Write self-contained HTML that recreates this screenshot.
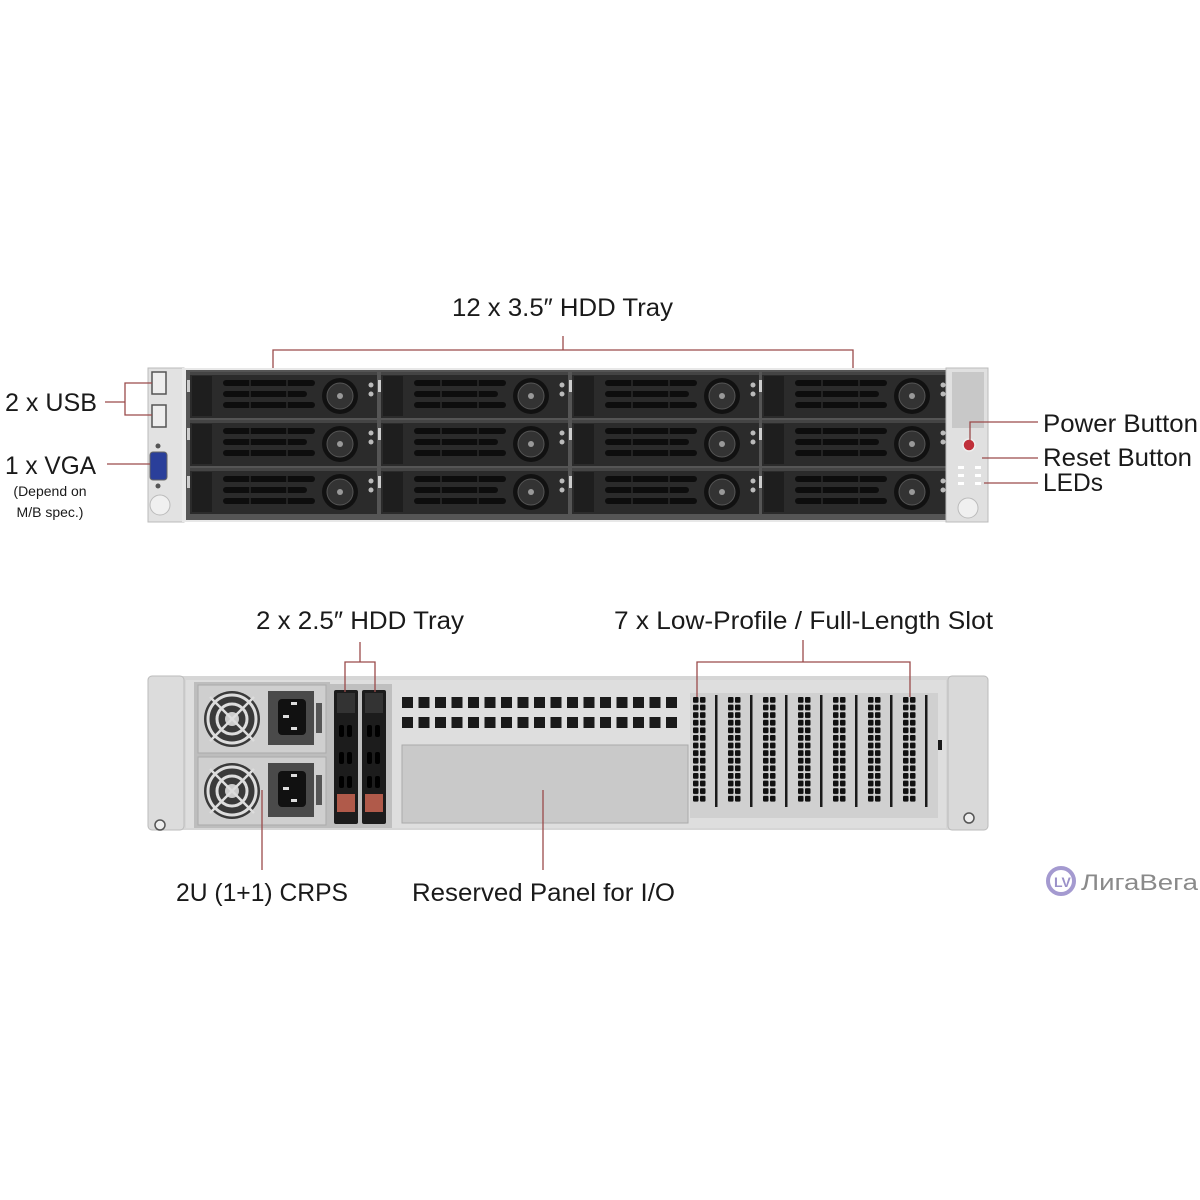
<!DOCTYPE html>
<html><head><meta charset="utf-8"><style>
html,body{margin:0;padding:0;background:#fff;width:1200px;height:1200px;overflow:hidden}
svg{display:block}
text{font-family:"Liberation Sans",sans-serif;fill:#1a1a1a}
</style></head><body>
<svg width="1200" height="1200" viewBox="0 0 1200 1200" xmlns="http://www.w3.org/2000/svg">
<defs>
<g id="bay">
  <rect x="0" y="0" width="187" height="46" fill="#2b2b2b"/>
  <rect x="0" y="0" width="187" height="3" fill="#444"/>
  <rect x="2" y="4" width="20" height="40" fill="#1e1e1e"/>
  <rect x="-3" y="8" width="3" height="12" fill="#ccc"/>
  <rect x="33" y="8" width="92" height="6" rx="3" fill="#0d0d0d"/>
  <rect x="33" y="19" width="84" height="6" rx="3" fill="#0d0d0d"/>
  <rect x="33" y="30" width="92" height="6" rx="3" fill="#0d0d0d"/>
  <line x1="60" y1="8" x2="60" y2="36" stroke="#2b2b2b" stroke-width="1.5"/>
  <line x1="97" y1="8" x2="97" y2="36" stroke="#2b2b2b" stroke-width="1.5"/>
  <circle cx="150" cy="24" r="18" fill="#111"/>
  <circle cx="150" cy="24" r="13" fill="#333" stroke="#555" stroke-width="1"/>
  <circle cx="150" cy="24" r="3" fill="#999"/>
  <circle cx="181" cy="13" r="2.5" fill="#bbb"/>
  <circle cx="181" cy="22" r="2.5" fill="#bbb"/>
</g>
<pattern id="vent" x="402" y="697" width="16.5" height="20" patternUnits="userSpaceOnUse">
  <rect x="0" y="0" width="11" height="11" fill="#1a1a1a"/>
</pattern>
<pattern id="pci" x="693" y="697" width="7" height="7.6" patternUnits="userSpaceOnUse">
  <rect x="0" y="0" width="5.5" height="5.8" rx="1" fill="#111"/>
</pattern>
<g id="psu">
  <rect x="0" y="0" width="128" height="68" fill="#cfcfcf" stroke="#aaa"/>
  <circle cx="34" cy="34" r="28" fill="#3a3a3a"/>
  <circle cx="34" cy="34" r="24" fill="none" stroke="#ddd" stroke-width="3"/>
  <circle cx="34" cy="34" r="15" fill="none" stroke="#ddd" stroke-width="3"/>
  <circle cx="34" cy="34" r="7" fill="#ccc"/>
  <line x1="12" y1="12" x2="56" y2="56" stroke="#ddd" stroke-width="2.5"/>
  <line x1="56" y1="12" x2="12" y2="56" stroke="#ddd" stroke-width="2.5"/>
  <rect x="70" y="6" width="46" height="54" fill="#4a4a4a"/>
  <rect x="80" y="14" width="28" height="36" rx="4" fill="#111"/>
  <rect x="93" y="17" width="6" height="3" fill="#ddd"/>
  <rect x="85" y="30" width="6" height="3" fill="#ddd"/>
  <rect x="93" y="42" width="6" height="3" fill="#ddd"/>
  <rect x="118" y="18" width="6" height="30" fill="#555"/>
</g>
<g id="tray">
  <rect x="0" y="0" width="24" height="134" rx="2" fill="#1c1c1c"/>
  <rect x="3" y="3" width="18" height="20" fill="#333"/>
  <rect x="5" y="35" width="5" height="12" rx="2" fill="#000"/><rect x="13" y="35" width="5" height="12" rx="2" fill="#000"/>
  <rect x="5" y="62" width="5" height="12" rx="2" fill="#000"/><rect x="13" y="62" width="5" height="12" rx="2" fill="#000"/>
  <rect x="5" y="86" width="5" height="12" rx="2" fill="#000"/><rect x="13" y="86" width="5" height="12" rx="2" fill="#000"/>
  <rect x="3" y="104" width="18" height="18" fill="#b05a4a"/>
</g>
</defs>

<!-- FRONT -->
<rect x="148" y="368" width="840" height="154" fill="#d4d4d4"/>
<rect x="148" y="368" width="36" height="154" fill="#e2e2e2" stroke="#bbb"/>
<rect x="182" y="368" width="766" height="154" fill="#e8e8e8"/>
<rect x="186" y="370" width="762" height="150" fill="#555"/>
<use href="#bay" x="190" y="372"/><use href="#bay" x="381" y="372"/><use href="#bay" x="572" y="372"/><use href="#bay" x="762" y="372"/>
<use href="#bay" x="190" y="420"/><use href="#bay" x="381" y="420"/><use href="#bay" x="572" y="420"/><use href="#bay" x="762" y="420"/>
<use href="#bay" x="190" y="468"/><use href="#bay" x="381" y="468"/><use href="#bay" x="572" y="468"/><use href="#bay" x="762" y="468"/>
<rect x="152" y="372" width="14" height="22" fill="#eee" stroke="#555" stroke-width="1.5"/>
<rect x="152" y="405" width="14" height="22" fill="#eee" stroke="#555" stroke-width="1.5"/>
<rect x="150" y="452" width="17" height="28" rx="3" fill="#2a3f9a" stroke="#666"/>
<circle cx="158" cy="446" r="2.5" fill="#555"/><circle cx="158" cy="486" r="2.5" fill="#555"/>
<circle cx="160" cy="505" r="10" fill="#f0f0f0" stroke="#bbb"/>
<rect x="946" y="368" width="42" height="154" fill="#e0e0e0" stroke="#bbb"/>
<rect x="952" y="372" width="32" height="56" fill="#c8c8c8"/>
<circle cx="969" cy="445" r="6" fill="#c0303a" stroke="#eee" stroke-width="1.5"/>
<rect x="958" y="466" width="6" height="3" fill="#fff"/><rect x="975" y="466" width="6" height="3" fill="#fff"/>
<rect x="958" y="474" width="6" height="3" fill="#fff"/><rect x="975" y="474" width="6" height="3" fill="#fff"/>
<rect x="958" y="482" width="6" height="3" fill="#fff"/><rect x="975" y="482" width="6" height="3" fill="#fff"/>
<circle cx="968" cy="508" r="10" fill="#f0f0f0" stroke="#bbb"/>

<g stroke="#9a4a4a" stroke-width="1.3" fill="none">
  <polyline points="273,368 273,350 853,350 853,368"/>
  <line x1="563" y1="336" x2="563" y2="350"/>
  <line x1="105" y1="402" x2="125" y2="402"/>
  <polyline points="152,383 125,383 125,415 152,415"/>
  <line x1="107" y1="464" x2="150" y2="464"/>
  <polyline points="970,440 970,422 1038,422"/>
  <line x1="982" y1="458" x2="1038" y2="458"/>
  <line x1="984" y1="483" x2="1038" y2="483"/>
</g>
<text x="452" y="316" font-size="25" textLength="221" lengthAdjust="spacingAndGlyphs">12 x 3.5″ HDD Tray</text>
<text x="5" y="411" font-size="25" textLength="92" lengthAdjust="spacingAndGlyphs">2 x USB</text>
<text x="5" y="474" font-size="25" textLength="91" lengthAdjust="spacingAndGlyphs">1 x VGA</text>
<text x="50" y="496" font-size="14" text-anchor="middle">(Depend on</text>
<text x="50" y="517" font-size="14" text-anchor="middle">M/B spec.)</text>
<text x="1043" y="432" font-size="25" textLength="155" lengthAdjust="spacingAndGlyphs">Power Button</text>
<text x="1043" y="466" font-size="25" textLength="149" lengthAdjust="spacingAndGlyphs">Reset Button</text>
<text x="1043" y="491" font-size="25" textLength="60" lengthAdjust="spacingAndGlyphs">LEDs</text>

<!-- REAR -->
<rect x="148" y="676" width="840" height="154" rx="4" fill="#d6d6d6"/>
<rect x="148" y="676" width="36" height="154" rx="4" fill="#dcdcdc" stroke="#bbb"/>
<rect x="948" y="676" width="40" height="154" rx="4" fill="#d9d9d9" stroke="#bbb"/>
<rect x="186" y="680" width="760" height="148" fill="#dedede"/>
<circle cx="160" cy="825" r="5" fill="#eee" stroke="#555" stroke-width="1.5"/>
<circle cx="969" cy="818" r="5" fill="#eee" stroke="#555" stroke-width="1.5"/>
<rect x="194" y="682" width="136" height="146" fill="#bdbdbd"/>
<use href="#psu" x="198" y="685"/>
<use href="#psu" x="198" y="757"/>
<rect x="330" y="684" width="62" height="144" fill="#bfbfbf"/>
<use href="#tray" x="334" y="690"/>
<use href="#tray" x="362" y="690"/>
<rect x="402" y="697" width="280" height="31" fill="url(#vent)"/>
<rect x="402" y="745" width="286" height="78" fill="#c9c9c9" stroke="#aaa"/>
<g>
  <rect x="690" y="693" width="248" height="125" fill="#d0d0d0"/>
  <rect x="693" y="697" width="14" height="106" fill="url(#pci)"/>
  <rect x="728" y="697" width="14" height="106" fill="url(#pci)"/>
  <rect x="763" y="697" width="14" height="106" fill="url(#pci)"/>
  <rect x="798" y="697" width="14" height="106" fill="url(#pci)"/>
  <rect x="833" y="697" width="14" height="106" fill="url(#pci)"/>
  <rect x="868" y="697" width="14" height="106" fill="url(#pci)"/>
  <rect x="903" y="697" width="14" height="106" fill="url(#pci)"/>
  <g fill="#1a1a1a">
    <rect x="715" y="695" width="2.5" height="112"/><rect x="750" y="695" width="2.5" height="112"/>
    <rect x="785" y="695" width="2.5" height="112"/><rect x="820" y="695" width="2.5" height="112"/>
    <rect x="855" y="695" width="2.5" height="112"/><rect x="890" y="695" width="2.5" height="112"/>
    <rect x="925" y="695" width="2.5" height="112"/>
    <rect x="938" y="740" width="4" height="10"/>
  </g>
</g>
<g stroke="#9a4a4a" stroke-width="1.3" fill="none">
  <polyline points="345,692 345,662 375,662 375,692"/>
  <line x1="360" y1="642" x2="360" y2="662"/>
  <polyline points="697,697 697,662 910,662 910,697"/>
  <line x1="803" y1="640" x2="803" y2="662"/>
  <line x1="262" y1="790" x2="262" y2="870"/>
  <line x1="543" y1="790" x2="543" y2="870"/>
</g>
<text x="256" y="629" font-size="25" textLength="208" lengthAdjust="spacingAndGlyphs">2 x 2.5″ HDD Tray</text>
<text x="614" y="629" font-size="25" textLength="379" lengthAdjust="spacingAndGlyphs">7 x Low-Profile / Full-Length Slot</text>
<text x="176" y="901" font-size="25" textLength="172" lengthAdjust="spacingAndGlyphs">2U (1+1) CRPS</text>
<text x="412" y="901" font-size="25" textLength="263" lengthAdjust="spacingAndGlyphs">Reserved  Panel for I/O</text>

<circle cx="1061" cy="881" r="13" fill="none" stroke="#a49ad0" stroke-width="4"/>
<text x="1054" y="887" font-size="14" style="fill:#9a90c8" font-weight="bold">LV</text>
<text x="1081" y="890" font-size="22" style="fill:#8a8a8a" textLength="117" lengthAdjust="spacingAndGlyphs">ЛигаВега</text>
</svg>
</body></html>
